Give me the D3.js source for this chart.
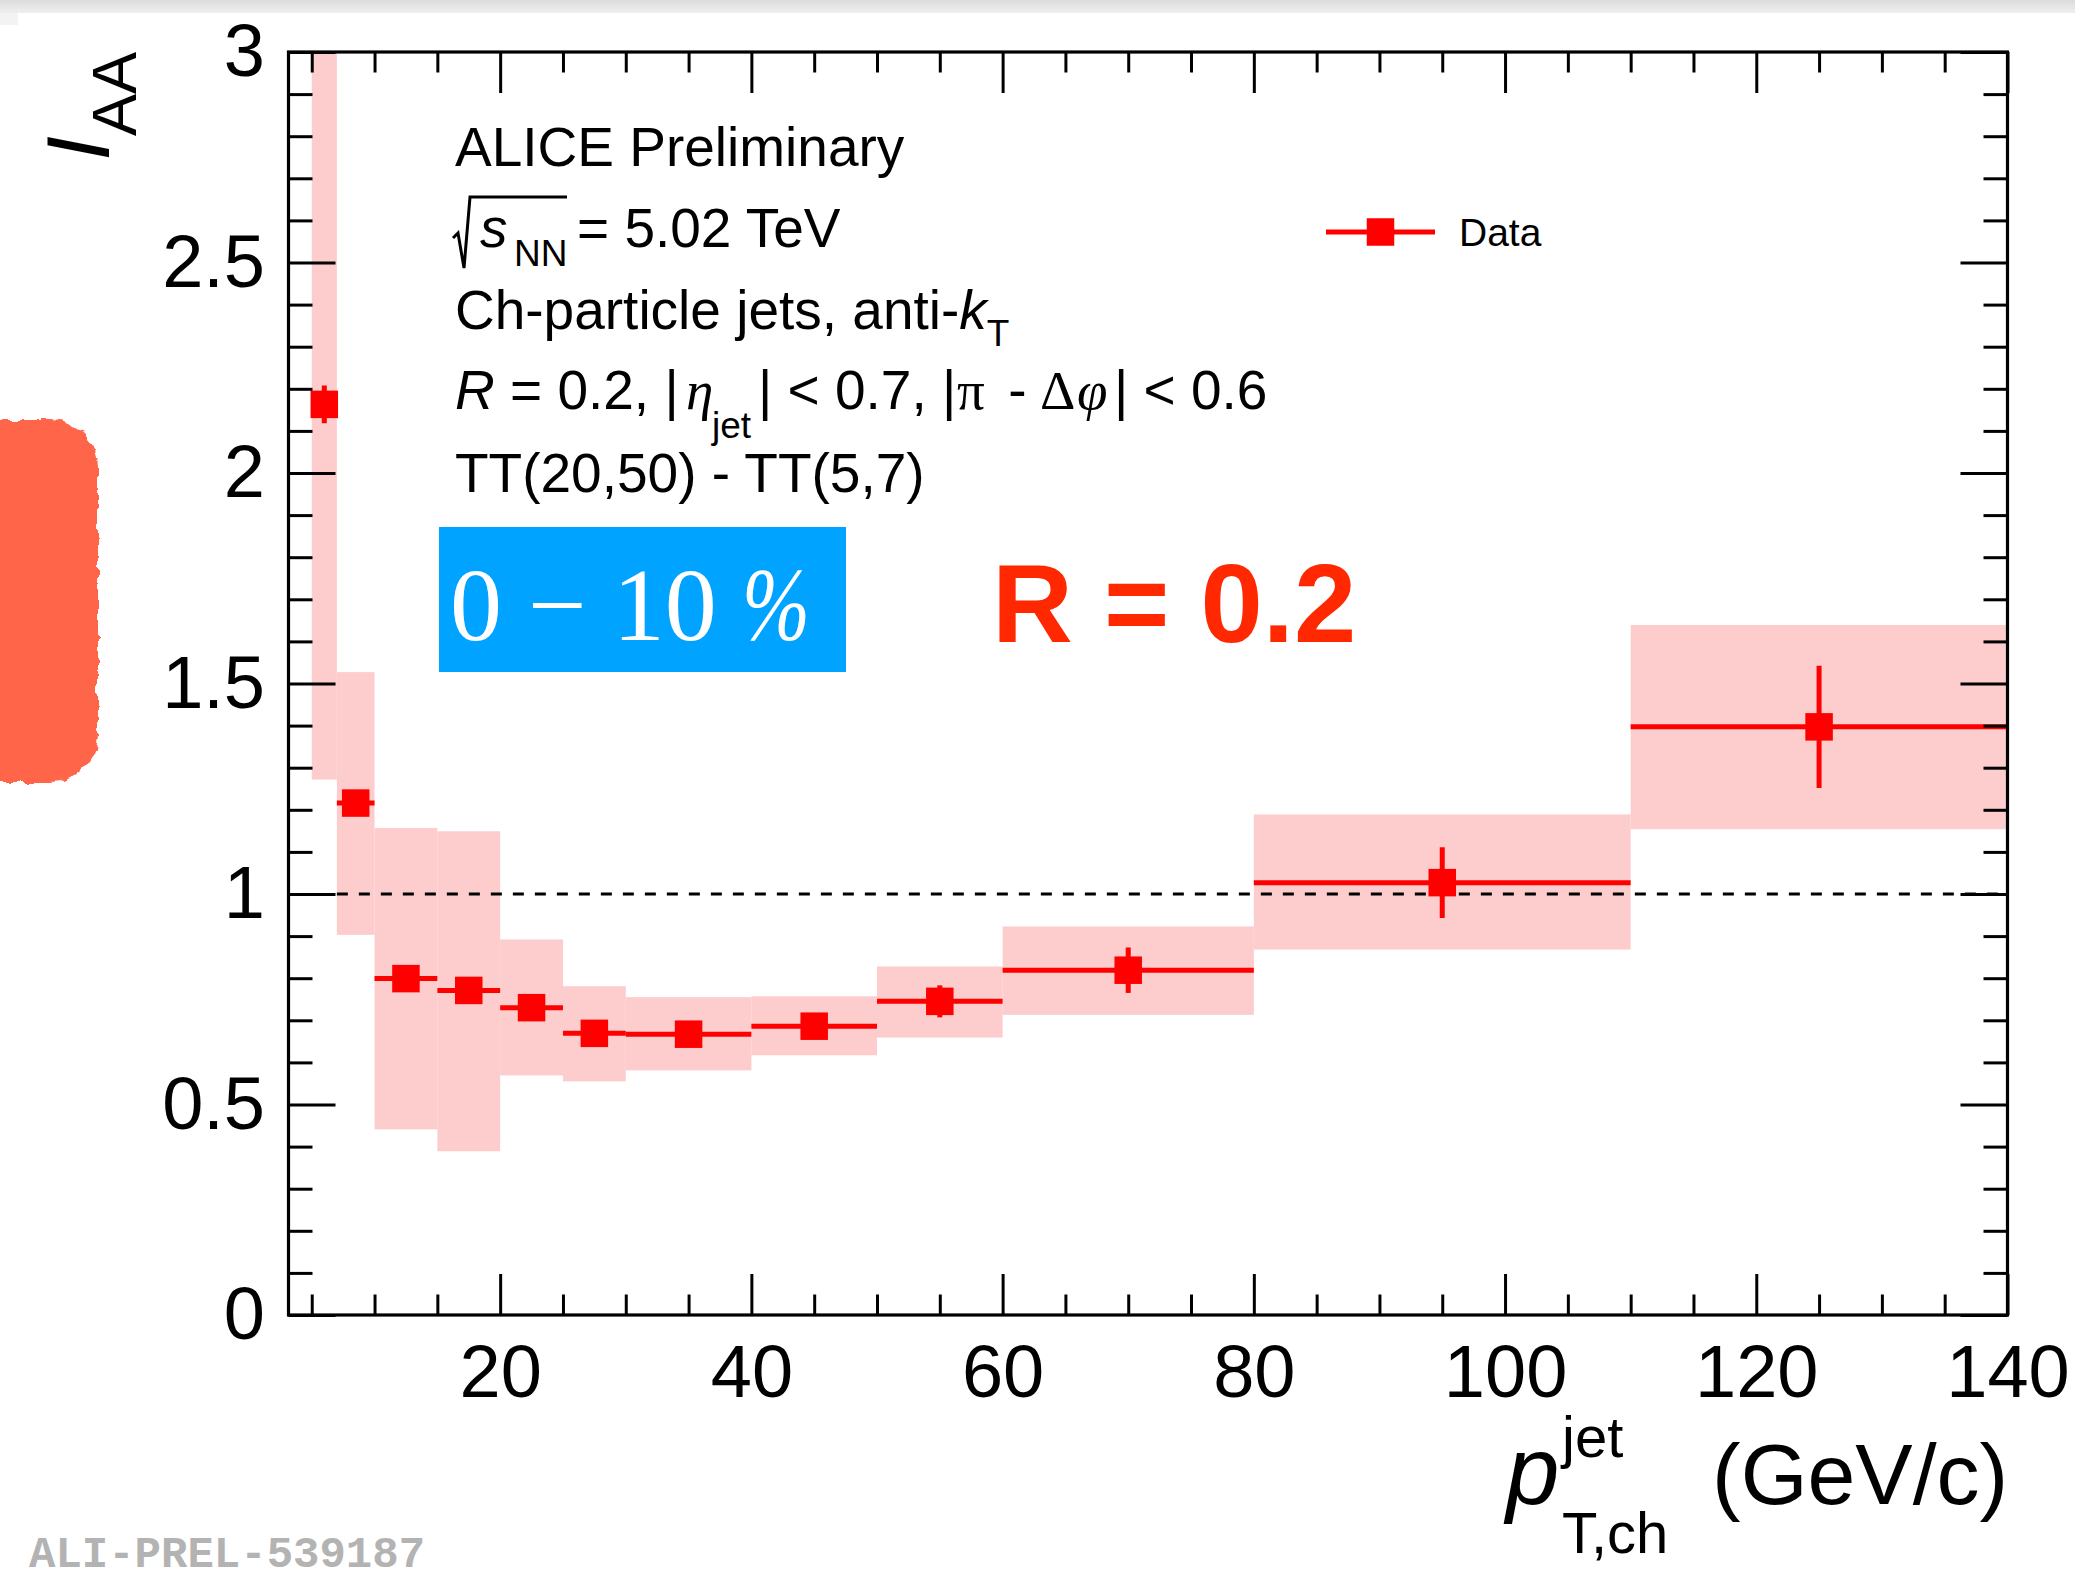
<!DOCTYPE html>
<html>
    <head>
        <meta charset="utf-8">
        <title>I_AA vs jet pT</title>
        <script src="https://d3js.org/d3.v7.min.js"></script>
        <style>
            body { margin: 0; background: #fff; }
            svg { display: block; }
            text { font-family: "Liberation Sans", Arial, Helvetica, sans-serif; }
            .serif { font-family: "Liberation Serif", "Times New Roman", serif; }
        </style>
    </head>
    <body>
        <svg id="chart"></svg>

        <script>
            // bins in pT,ch jet (GeV/c)
            const binLow  = [5, 7, 10, 15, 20, 25, 30, 40, 50, 60, 80, 110];
            const binHigh = [7, 10, 15, 20, 25, 30, 40, 50, 60, 80, 110, 140];
            const binCenter = [6, 8.5, 12.5, 17.5, 22.5, 27.5, 35, 45, 55, 70, 95, 125];
            // I_AA values, statistical error, systematic band edges
            const iaa     = [2.163, 1.216, 0.799, 0.771, 0.730, 0.669, 0.667, 0.686, 0.745, 0.819, 1.027, 1.397];
            const statErr = [0.045, 0.020, 0.025, 0.025, 0.025, 0.025, 0.020, 0.020, 0.038, 0.054, 0.084, 0.145];
            const sysLow  = [1.272, 0.903, 0.441, 0.389, 0.569, 0.555, 0.581, 0.617, 0.659, 0.713, 0.868, 1.154];
            const sysHigh = [3.40, 1.527, 1.157, 1.149, 0.892, 0.781, 0.755, 0.757, 0.828, 0.923, 1.189, 1.639];

            const xMajorTicks = [20, 40, 60, 80, 100, 120, 140];
            const yMajorTicks = [0, 0.5, 1, 1.5, 2, 2.5, 3];
            const yTickLabels = ["0", "0.5", "1", "1.5", "2", "2.5", "3"];

            const width = 2075, height = 1585;
            const frame = { left: 288.5, right: 2007.5, top: 52, bottom: 1315 };

            const svg = d3.select("#chart")
                .attr("width", width)
                .attr("height", height);

            const defs = svg.append("defs");
            const grad = defs.append("linearGradient").attr("id", "topbar")
                .attr("x1", 0).attr("y1", 0).attr("x2", 0).attr("y2", 1);
            grad.append("stop").attr("offset", "0%").attr("stop-color", "#dcdcdc");
            grad.append("stop").attr("offset", "100%").attr("stop-color", "#efefef");

            const rough = defs.append("filter").attr("id", "rough")
                .attr("x", "-20%").attr("y", "-10%").attr("width", "140%").attr("height", "120%");
            rough.append("feTurbulence").attr("type", "fractalNoise")
                .attr("baseFrequency", 0.09).attr("numOctaves", 2).attr("seed", 4);
            rough.append("feDisplacementMap").attr("in", "SourceGraphic")
                .attr("scale", 9).attr("xChannelSelector", "R").attr("yChannelSelector", "G");

            defs.append("clipPath").attr("id", "frameclip")
                .append("rect")
                .attr("x", frame.left).attr("y", frame.top)
                .attr("width", frame.right - frame.left)
                .attr("height", frame.bottom - frame.top);

            // slide leftovers: grey strip on top, red blob at left edge
            svg.append("rect").attr("x", 0).attr("y", 0).attr("width", width).attr("height", 13)
                .attr("fill", "url(#topbar)");
            svg.append("rect").attr("x", 0).attr("y", 13).attr("width", 18).attr("height", 12)
                .attr("fill", "#f3f3f3");
            svg.append("rect")
                .attr("x", -70).attr("y", 420).attr("width", 168).attr("height", 362)
                .attr("rx", 48).attr("ry", 48)
                .attr("fill", "#ff654a")
                .attr("filter", "url(#rough)");

            const x = d3.scaleLinear().domain([3.15, 140]).range([frame.left, frame.right]);
            const y = d3.scaleLinear().domain([0, 3]).range([frame.bottom, frame.top]);

            const data = binCenter.map((c, i) => ({
                c: c, lo: binLow[i], hi: binHigh[i], v: iaa[i],
                e: statErr[i], sLo: sysLow[i], sHi: sysHigh[i]
            }));

            const plot = svg.append("g").attr("clip-path", "url(#frameclip)");

            // systematic boxes
            plot.selectAll(".sys")
                .data(data)
                .enter()
                .append("rect")
                .attr("class", "sys")
                .attr("x", d => x(d.lo))
                .attr("width", d => x(d.hi) - x(d.lo))
                .attr("y", d => y(d.sHi))
                .attr("height", d => y(d.sLo) - y(d.sHi))
                .attr("fill", "#fdcccc");

            // unity line
            plot.append("line")
                .attr("x1", x(7)).attr("x2", x(140))
                .attr("y1", y(1)).attr("y2", y(1))
                .attr("stroke", "#000")
                .attr("stroke-width", 3)
                .attr("stroke-dasharray", "11,11");

            // error bars
            plot.selectAll(".xerr")
                .data(data)
                .enter()
                .append("line")
                .attr("x1", d => x(d.lo)).attr("x2", d => x(d.hi))
                .attr("y1", d => y(d.v)).attr("y2", d => y(d.v))
                .attr("stroke", "#ff0000")
                .attr("stroke-width", 5);

            plot.selectAll(".yerr")
                .data(data)
                .enter()
                .append("line")
                .attr("x1", d => x(d.c)).attr("x2", d => x(d.c))
                .attr("y1", d => y(d.v - d.e)).attr("y2", d => y(d.v + d.e))
                .attr("stroke", "#ff0000")
                .attr("stroke-width", 5);

            const ms = 27.5;
            plot.selectAll(".marker")
                .data(data)
                .enter()
                .append("rect")
                .attr("x", d => x(d.c) - ms / 2)
                .attr("y", d => y(d.v) - ms / 2)
                .attr("width", ms)
                .attr("height", ms)
                .attr("fill", "#ff0000");

            // axes
            const xMinor = d3.range(5, 141, 5).filter(v => v % 20 !== 0);
            const yMinor = d3.range(1, 30).filter(v => v % 5 !== 0).map(v => v / 10);

            const styleAxis = g => {
                g.select(".domain").remove();
                g.selectAll(".tick line").attr("stroke", "#000").attr("stroke-width", 3);
                g.selectAll(".tick text").attr("fill", "#000").style("font-size", "74px")
                    .style("font-family", "'Liberation Sans', Arial, sans-serif");
            };

            svg.append("g")
                .attr("transform", `translate(0,${frame.bottom})`)
                .call(d3.axisBottom(x).tickValues(xMajorTicks).tickSize(-41).tickPadding(29.5).tickFormat(d3.format("d")))
                .call(styleAxis);
            svg.append("g")
                .attr("transform", `translate(0,${frame.bottom})`)
                .call(d3.axisBottom(x).tickValues(xMinor).tickSize(-20.5).tickFormat(""))
                .call(styleAxis);
            svg.append("g")
                .attr("transform", `translate(0,${frame.top})`)
                .call(d3.axisTop(x).tickValues(xMajorTicks).tickSize(-41).tickFormat(""))
                .call(styleAxis);
            svg.append("g")
                .attr("transform", `translate(0,${frame.top})`)
                .call(d3.axisTop(x).tickValues(xMinor).tickSize(-20.5).tickFormat(""))
                .call(styleAxis);

            svg.append("g")
                .attr("transform", `translate(${frame.left},0)`)
                .call(d3.axisLeft(y).tickValues(yMajorTicks).tickSize(-47).tickPadding(23.5)
                    .tickFormat((d, i) => yTickLabels[i]))
                .call(styleAxis);
            svg.append("g")
                .attr("transform", `translate(${frame.left},0)`)
                .call(d3.axisLeft(y).tickValues(yMinor).tickSize(-24).tickFormat(""))
                .call(styleAxis);
            svg.append("g")
                .attr("transform", `translate(${frame.right},0)`)
                .call(d3.axisRight(y).tickValues(yMajorTicks).tickSize(-47).tickFormat(""))
                .call(styleAxis);
            svg.append("g")
                .attr("transform", `translate(${frame.right},0)`)
                .call(d3.axisRight(y).tickValues(yMinor).tickSize(-24).tickFormat(""))
                .call(styleAxis);

            svg.append("rect")
                .attr("x", frame.left).attr("y", frame.top)
                .attr("width", frame.right - frame.left)
                .attr("height", frame.bottom - frame.top)
                .attr("fill", "none")
                .attr("stroke", "#000")
                .attr("stroke-width", 3.2);

            // axis titles
            const xt = svg.append("text").attr("y", 1504).style("font-size", "86px");
            xt.append("tspan").attr("x", 1506).style("font-style", "italic").style("font-size", "96px").text("p");
            xt.append("tspan").attr("x", 1562).attr("y", 1457).style("font-size", "58px").text("jet");
            xt.append("tspan").attr("x", 1562).attr("y", 1553).style("font-size", "58px").text("T,ch");
            xt.append("tspan").attr("x", 1712).attr("y", 1504).text("(GeV/c)");

            const yt = svg.append("text")
                .attr("transform", "translate(109,52) rotate(-90)")
                .attr("text-anchor", "end");
            yt.append("tspan").style("font-size", "89px").style("font-style", "italic").text("I");
            yt.append("tspan").attr("dy", 27).style("font-size", "63px").text("AA");

            // info text block
            const info = svg.append("g").style("font-size", "55px");
            info.append("text").attr("x", 455).attr("y", 166).text("ALICE Preliminary");

            const l2 = info.append("text").attr("y", 247);
            l2.append("tspan").attr("x", 480).style("font-style", "italic").text("s");
            l2.append("tspan").attr("x", 514).attr("y", 266).style("font-size", "37px").text("NN");
            l2.append("tspan").attr("x", 577).attr("y", 247).text("= 5.02 TeV");

            const l3 = info.append("text").attr("x", 455).attr("y", 329);
            l3.append("tspan").text("Ch-particle jets, anti-");
            l3.append("tspan").style("font-style", "italic").text("k");
            l3.append("tspan").attr("dy", 17).style("font-size", "37px").text("T");

            const l4 = info.append("text").attr("x", 455).attr("y", 409);
            l4.append("tspan").style("font-style", "italic").text("R");
            l4.append("tspan").text(" = 0.2, |");
            l4.append("tspan").attr("x", 686).attr("class", "serif").style("font-style", "italic").text("η");
            l4.append("tspan").attr("x", 712).attr("y", 438).style("font-size", "37px").text("jet");
            l4.append("tspan").attr("x", 758).attr("y", 409).text("| < 0.7, |");
            l4.append("tspan").attr("x", 957).attr("class", "serif").text("π");
            l4.append("tspan").attr("x", 993).text(" -");
            l4.append("tspan").attr("x", 1040).attr("class", "serif").text("Δ");
            l4.append("tspan").attr("x", 1077).attr("class", "serif").style("font-style", "italic").text("φ");
            l4.append("tspan").attr("x", 1114).text("| < 0.6");

            info.append("text").attr("x", 455).attr("y", 492).text("TT(20,50) - TT(5,7)");

            svg.append("path")
                .attr("d", "M453,238 L458,233 L464,268 L470,197 L567,197")
                .attr("fill", "none")
                .attr("stroke", "#000")
                .attr("stroke-width", 3);

            // centrality box
            svg.append("rect")
                .attr("x", 439).attr("y", 527).attr("width", 407).attr("height", 145)
                .attr("fill", "#00a3ff");
            svg.append("text")
                .attr("class", "serif")
                .attr("x", 450).attr("y", 640)
                .attr("fill", "#fff")
                .style("font-size", "104px")
                .text("0 − 10");
            svg.append("text")
                .attr("class", "serif")
                .attr("x", 742).attr("y", 640)
                .attr("fill", "#fff")
                .attr("textLength", 68)
                .attr("lengthAdjust", "spacingAndGlyphs")
                .style("font-size", "104px")
                .style("font-style", "italic")
                .text("%");

            svg.append("text")
                .attr("x", 992).attr("y", 642)
                .attr("fill", "#ff2800")
                .style("font-size", "112px")
                .style("font-weight", "bold")
                .text("R = 0.2");

            // legend
            const leg = svg.append("g");
            leg.append("line")
                .attr("x1", 1326).attr("x2", 1435).attr("y1", 232).attr("y2", 232)
                .attr("stroke", "#ff0000").attr("stroke-width", 5);
            leg.append("rect")
                .attr("x", 1380.5 - ms / 2).attr("y", 232 - ms / 2)
                .attr("width", ms).attr("height", ms)
                .attr("fill", "#ff0000");
            leg.append("text")
                .attr("x", 1459).attr("y", 246)
                .style("font-size", "39px")
                .text("Data");

            svg.append("text")
                .attr("x", 29).attr("y", 1567)
                .attr("fill", "#b3b3b3")
                .style("font-family", "'Liberation Mono', 'Courier New', monospace")
                .style("font-weight", "bold")
                .style("font-size", "44px")
                .text("ALI-PREL-539187");
        </script>
    </body>
</html>
